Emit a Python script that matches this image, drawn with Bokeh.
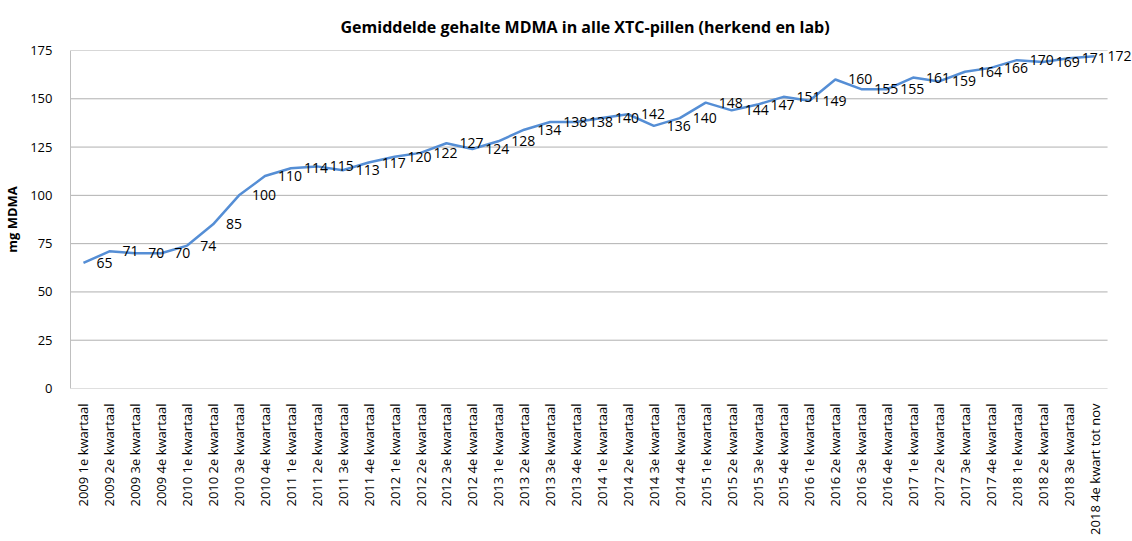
from math import pi
from bokeh.plotting import figure
from bokeh.models import ColumnDataSource, FactorRange, LabelSet, Range1d, FixedTicker
from bokeh.core.properties import value
from bokeh.embed import file_html
from bokeh.resources import INLINE

categories = [
    "2009 1e kwartaal", "2009 2e kwartaal", "2009 3e kwartaal", "2009 4e kwartaal",
    "2010 1e kwartaal", "2010 2e kwartaal", "2010 3e kwartaal", "2010 4e kwartaal",
    "2011 1e kwartaal", "2011 2e kwartaal", "2011 3e kwartaal", "2011 4e kwartaal",
    "2012 1e kwartaal", "2012 2e kwartaal", "2012 3e kwartaal", "2012 4e kwartaal",
    "2013 1e kwartaal", "2013 2e kwartaal", "2013 3e kwartaal", "2013 4e kwartaal",
    "2014 1e kwartaal", "2014 2e kwartaal", "2014 3e kwartaal", "2014 4e kwartaal",
    "2015 1e kwartaal", "2015 2e kwartaal", "2015 3e kwartaal", "2015 4e kwartaal",
    "2016 1e kwartaal", "2016 2e kwartaal", "2016 3e kwartaal", "2016 4e kwartaal",
    "2017 1e kwartaal", "2017 2e kwartaal", "2017 3e kwartaal", "2017 4e kwartaal",
    "2018 1e kwartaal", "2018 2e kwartaal", "2018 3e kwartaal", "2018 4e kwart tot nov",
]
mdma = [
    65, 71, 70, 70, 74, 85, 100, 110,
    114, 115, 113, 117, 120, 122, 127, 124,
    128, 134, 138, 138, 140, 142, 136, 140,
    148, 144, 147, 151, 149, 160, 155, 155,
    161, 159, 164, 166, 170, 169, 171, 172,
]
y_ticks = [0, 25, 50, 75, 100, 125, 150, 175]

title_text = "Gemiddelde gehalte MDMA in alle XTC-pillen (herkend en lab)"
y_label = "mg MDMA"

FONT = "Open Sans"
GRID = "#B0B0B0"
AXIS = "#BFBFBF"

# one empty spare slot on the right so the last data label is not clipped
factors = categories + [" "]

source = ColumnDataSource(dict(x=categories, y=mdma, lbl=[str(v) for v in mdma]))

n = len(categories)
unit = 1037 / n
p = figure(
    frame_width=int(round(unit * len(factors))), frame_height=338,
    x_range=FactorRange(factors=factors),
    y_range=Range1d(0, 175),
    output_backend="svg", toolbar_location=None,
    title=title_text,
    min_border_left=60, min_border_right=0, min_border_top=49, min_border_bottom=145,
)
p.title.align = "left"
p.title.text_font = FONT
p.title.text_font_size = "16px"
p.title.text_font_style = "bold"
p.title.text_color = "#000000"
p.title.offset = 270
p.title.standoff = 26

p.outline_line_color = None
p.background_fill_color = "white"
p.border_fill_color = "white"

# horizontal gridlines limited to the category span
p.xgrid.grid_line_color = None
p.ygrid.grid_line_color = None
grid_src = ColumnDataSource(dict(
    x0=[(categories[0], -0.5)] * len(y_ticks),
    x1=[(categories[-1], 0.5)] * len(y_ticks),
    y=y_ticks,
    c=[AXIS if t == 0 else GRID for t in y_ticks],
))
p.segment(x0="x0", y0="y", x1="x1", y1="y", source=grid_src, line_color="c", line_width=1)

p.line("x", "y", source=source, line_color="#558ED5", line_width=2.5)

labels = LabelSet(x="x", y="y", text="lbl", source=source, x_offset=13,
                  text_align="left", text_baseline="middle",
                  text_font=value(FONT), text_font_size=value("14px"),
                  text_color=value("#000000"))
p.add_layout(labels)

p.yaxis.ticker = FixedTicker(ticks=y_ticks)

# y axis
p.yaxis.axis_label = y_label
p.yaxis.axis_label_text_font = FONT
p.yaxis.axis_label_text_font_size = "13px"
p.yaxis.axis_label_text_font_style = "bold"
p.yaxis.axis_label_text_color = "#000000"
p.yaxis.axis_label_standoff = 6
p.yaxis.major_label_text_font = FONT
p.yaxis.major_label_text_font_size = "13px"
p.yaxis.major_label_text_color = "#000000"
p.yaxis.major_tick_line_color = None
p.yaxis.minor_tick_line_color = None
p.yaxis.major_label_standoff = 12
p.yaxis.axis_line_color = AXIS

# x axis
p.xaxis.major_label_orientation = pi / 2
p.xaxis.major_label_text_font = FONT
p.xaxis.major_label_text_font_size = "13px"
p.xaxis.major_label_text_color = "#000000"
p.xaxis.major_tick_line_color = None
p.xaxis.minor_tick_line_color = None
p.xaxis.major_label_standoff = 9
p.xaxis.axis_line_color = None

open("out.html", "w").write(file_html(p, INLINE))
